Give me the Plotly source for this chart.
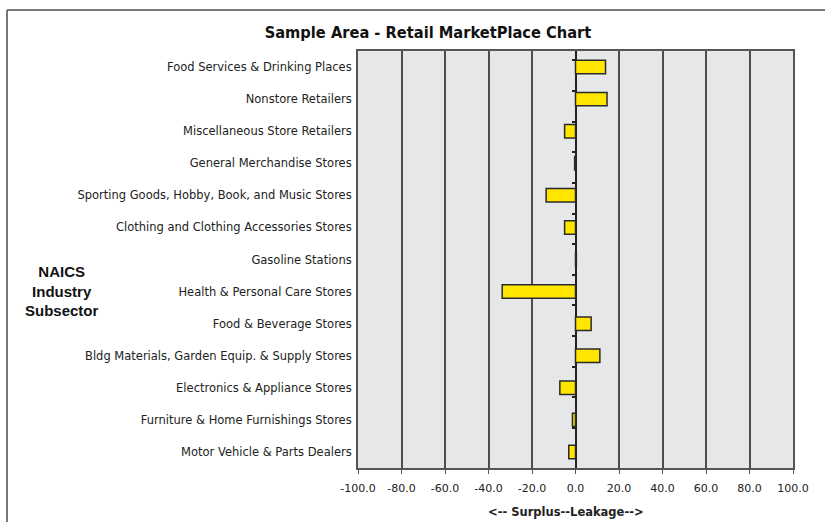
import plotly.graph_objects as go

categories = [
    "Food Services & Drinking Places",
    "Nonstore Retailers",
    "Miscellaneous Store Retailers",
    "General Merchandise Stores",
    "Sporting Goods, Hobby, Book, and Music Stores",
    "Clothing and Clothing Accessories Stores",
    "Gasoline Stations",
    "Health & Personal Care Stores",
    "Food & Beverage Stores",
    "Bldg Materials, Garden Equip. & Supply Stores",
    "Electronics & Appliance Stores",
    "Furniture & Home Furnishings Stores",
    "Motor Vehicle & Parts Dealers",
]
values = [13.8, 14.5, -5.0, -0.4, -13.5, -5.0, 0.4, -33.7, 7.2, 11.2, -7.2, -1.4, -3.1]

tick_vals = [-100, -80, -60, -40, -20, 0, 20, 40, 60, 80, 100]
tick_labels = ["-100.0", "-80.0", "-60.0", "-40.0", "-20.0", "0.0", "20.0", "40.0", "60.0", "80.0", "100.0"]

title_text = "Sample Area - Retail MarketPlace Chart"
x_title = "<-- Surplus--Leakage-->"
y_title = "NAICS<br>Industry<br>Subsector"

W, H = 825, 522
L, R, T, B = 358, 32, 51, 54
pw, ph = W - L - R, H - T - B

def px_x(p):
    return (p - L) / pw

def px_y(p):
    return (H - B - p) / ph

font_small = "DejaVu Sans, Verdana, sans-serif"
font_main = "Liberation Sans, Arial, sans-serif"

fig = go.Figure()
fig.add_trace(go.Bar(
    y=categories, x=values, orientation="h",
    marker=dict(color="#FFE500", line=dict(color="#2a2a2a", width=1.5)),
    width=0.42, showlegend=False, hoverinfo="x+y",
))
# invisible trace to carry the zero-line boundary ticks
fig.add_trace(go.Scatter(
    y=categories, x=[0] * len(categories), yaxis="y2", mode="markers",
    marker=dict(opacity=0), showlegend=False, hoverinfo="skip",
))

fig.update_layout(
    width=W, height=H,
    margin=dict(l=L, r=R, t=T, b=B, autoexpand=False),
    paper_bgcolor="white",
    plot_bgcolor="#E6E7E9",
    title=dict(text="<b>" + title_text + "</b>", x=428 / W, xref="container",
               y=1 - 32 / H, yref="container", xanchor="center", yanchor="middle",
               font=dict(family="Liberation Sans Narrow, Arial Narrow, DejaVu Sans Condensed, sans-serif",
                         size=16.3, color="#111")),
    xaxis=dict(
        range=[-100, 100], tickvals=tick_vals, ticktext=tick_labels,
        showgrid=True, gridcolor="#4d4d4d", gridwidth=2,
        zeroline=True, zerolinecolor="#222", zerolinewidth=2,
        showline=True, linecolor="#555", linewidth=2, mirror=True,
        ticks="outside", ticklen=4, tickcolor="#555", tickwidth=1,
        tickfont=dict(family=font_small, size=11, color="#222"),
        ticklabelstandoff=5, automargin=False,
    ),
    yaxis=dict(
        categoryorder="array", categoryarray=categories, autorange="reversed",
        showgrid=False, zeroline=False,
        showline=True, linecolor="#555", linewidth=2, mirror=True,
        ticks="", tickfont=dict(family=font_small, size=11.5, color="#222"),
        ticklabelstandoff=2, automargin=False,
    ),
    yaxis2=dict(
        overlaying="y", anchor="free", position=0.5,
        categoryorder="array", categoryarray=categories, autorange="reversed",
        showticklabels=False, showgrid=False, zeroline=False, showline=False,
        ticks="outside", tickson="boundaries", ticklen=4, tickwidth=2, tickcolor="#222",
    ),
    bargap=0.58,
    shapes=[
        dict(type="line", xref="paper", yref="paper",
             x0=px_x(7), x1=px_x(7), y0=px_y(10), y1=px_y(H + 5),
             line=dict(color="#777", width=2)),
        dict(type="line", xref="paper", yref="paper",
             x0=px_x(7), x1=px_x(W + 5), y0=px_y(10), y1=px_y(10),
             line=dict(color="#777", width=2)),
    ],
    annotations=[
        dict(text="<b>" + x_title + "</b>", xref="paper", yref="paper",
             x=px_x(566), y=px_y(512), xanchor="center", yanchor="middle",
             showarrow=False, font=dict(family=font_small, size=11.5, color="#222")),
        dict(text="<b>" + y_title + "</b>", xref="paper", yref="paper",
             x=px_x(62), y=px_y(291), xanchor="center", yanchor="middle",
             showarrow=False, align="center",
             font=dict(family=font_main, size=15, color="#111")),
    ],
)

fig.write_html("out.html", config={"displayModeBar": False},
               post_script="document.body.style.margin='0';")
